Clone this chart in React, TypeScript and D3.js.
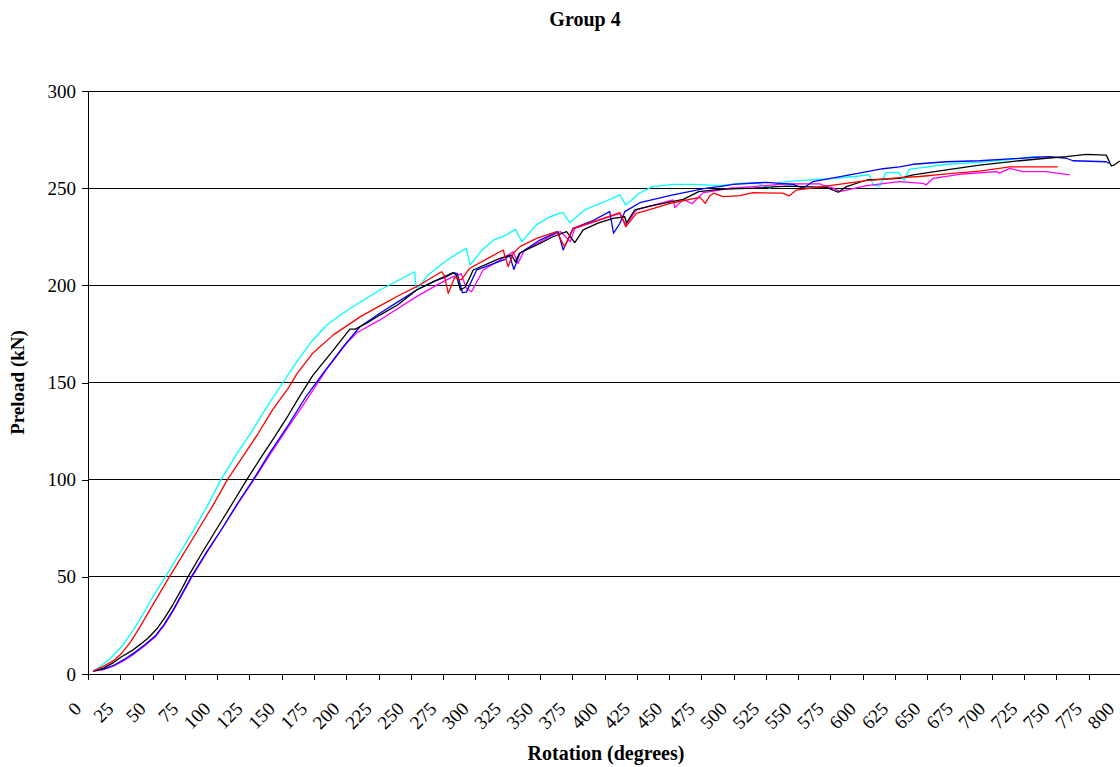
import React, { useRef, useEffect } from 'react';
import * as d3 from 'd3';

// Valeurs : [rotation (degrés), précharge (kN)]
const rotationTicks = d3.range(0, 801, 25);
const preloadTicks = [0, 50, 100, 150, 200, 250, 300];

const cyanSeries = [
  [4, 1.5], [10, 4], [18, 8.5], [26, 14], [34, 21.5], [42, 30], [50, 39.5], [60, 50], [70, 61], [80, 72],
  [92, 86], [103, 100], [115, 113], [127, 125], [139, 138], [151, 150], [162, 161], [173, 171],
  [185, 179.6], [195, 184.5], [205, 189], [216, 193.5], [226, 197.6], [240, 202.5], [253, 207],
  [254, 199], [256, 198.5], [262, 204.5], [275, 211.5], [285, 216], [293, 219], [296, 210.5],
  [305, 218], [314, 223.3], [324, 226], [331, 228.8], [336, 222.5], [347, 231], [357, 235],
  [365, 237], [368, 237.4], [373, 232.2], [385, 239], [400, 243], [412, 246.5], [416.5, 241.3],
  [427, 247.4], [437, 250.8], [453, 252], [470, 252], [489, 251.3], [505, 252.5], [518, 252.8],
  [528, 250], [536, 253], [551, 253.9], [577, 255], [594, 256], [605, 257], [608, 251.6],
  [613, 251], [618, 258], [628, 258], [632, 254], [636, 259.7], [650, 261], [665, 262.3],
  [690, 263.3], [716, 264.8], [732, 266.2], [737, 266],
];

const redSeries = [
  [4, 1.5], [12, 4], [20, 7], [26, 10.6], [33, 16.5], [40, 24], [51, 36.5], [63, 50], [75, 63],
  [86, 75], [97, 87], [108, 100], [120, 112], [132, 124], [143, 136], [155, 147], [162, 154.7],
  [174, 165], [190, 174.5], [211, 183.9], [226, 189.4], [240, 194.5], [254.5, 199.3], [265, 203.5],
  [273.8, 207], [276, 205], [279, 195.9], [284, 204.1], [289, 202.8], [295.7, 208.8], [310, 214],
  [321.5, 218.2], [325.4, 209.6], [329.3, 216.5], [334.5, 219.9], [347, 224], [363, 227.6],
  [369, 219.9], [375.7, 229.3], [395, 233.5], [412, 237.4], [416.5, 230.2], [424.8, 237],
  [440, 240], [453, 242.5], [474, 245.3], [478, 242.2], [481.5, 246], [484.4, 247.4],
  [491.8, 245.6], [504.8, 246.2], [515, 247.7], [538, 247.4], [543, 246], [548.6, 249],
  [577, 251.6], [603, 253.9], [628.6, 255.4], [644, 256], [667, 257.5], [690.6, 258.8],
  [713.8, 261], [751, 261],
];

const blackSeries = [
  [4, 1.5], [12, 3], [20, 6], [26, 8.9], [34, 12], [41, 15.5], [47, 18.8], [53, 23], [59, 28.5],
  [66, 36], [72, 43], [77.4, 50], [88, 62], [100, 75], [112, 88], [123, 100], [134, 111.5],
  [145, 122.5], [155, 133], [164, 143], [174, 153.5], [190, 166.7], [202.8, 177.5], [207, 177.5],
  [215.8, 180.5], [226, 184.7], [240, 190], [254.5, 197.6], [268, 202], [282.8, 206.5],
  [285, 205.5], [288.5, 197.6], [292, 199], [296, 204.5], [298.3, 207.9], [319, 213.9],
  [328, 215.6], [331, 212], [334, 216.5], [350, 221.6], [360, 225], [370.6, 227.6], [377, 222],
  [383.5, 228.5], [395, 232], [406.7, 234.5], [415.7, 235.3], [417, 232], [423.5, 238.8],
  [435, 240.8], [461, 244.2], [473, 248.2], [489, 249.4], [515, 250], [541, 251], [572, 250.4],
  [581, 247.9], [587.4, 250.8], [603, 254.2], [628.6, 255], [639, 256.8], [664.8, 259.4],
  [690.6, 261.9], [721.5, 264.1], [742, 265.4], [757.6, 266.2], [773, 267.4], [788.6, 267],
  [792.5, 261.4], [795, 262], [799, 264],
];

const blueSeries = [
  [4, 1.5], [12, 2.5], [20, 4.5], [28, 7.5], [36, 11], [44, 15], [52, 19.5], [59, 25.5], [66, 33],
  [73, 41.5], [80, 50], [92, 63], [104, 75], [116, 88], [128, 100], [141, 114], [155, 128],
  [168, 141.9], [182, 154.7], [197.7, 168.4], [210.6, 178.7], [226, 185.6], [240, 191.5],
  [254.5, 197.6], [268, 202], [277.7, 204.5], [283, 206.5], [286, 206], [290, 196.2], [293, 196.5],
  [301, 207.9], [323, 213.4], [326.5, 215.5], [329.8, 208.2], [334.5, 216.5], [350, 223.3],
  [364, 227.6], [368, 218.2], [375.7, 229.3], [390, 233], [401.5, 237], [404, 238], [407, 226.8],
  [411.9, 231.9], [415.7, 237.9], [427.4, 242.5], [453, 246.5], [479, 250], [489, 250.8],
  [499.6, 252], [525.4, 253], [546, 252], [553.8, 250], [561.5, 253.4], [590, 256.8],
  [615.6, 260], [628.6, 261], [639, 262.3], [664.8, 263.6], [690.6, 264.1], [734.5, 265.9],
  [744.8, 266.2], [757.6, 265.4], [762.8, 264.1], [788.6, 263.6], [791, 262.7],
];

const magentaSeries = [
  [4, 1.5], [12, 2.3], [20, 4.2], [28, 7], [36, 10.5], [44, 14.5], [52, 19], [59, 25], [66, 32.5],
  [73, 41], [80.5, 50], [92, 62.5], [104, 75], [116, 87.5], [128.5, 100], [141, 113], [155, 127],
  [169.3, 141], [185, 157], [200, 170], [208, 175.5], [226, 182.2], [254.5, 194.2], [272.5, 201],
  [282.8, 204.5], [286.7, 205.3], [289, 206], [293, 198.5], [297, 196.7], [306, 207.9], [319, 213],
  [329.3, 217.3], [333, 211.3], [338, 218.2], [362.8, 226.8], [366, 227.6], [373.5, 222.5],
  [377, 229.3], [411.9, 237], [416.5, 231], [424.8, 238.8], [453, 244], [454.5, 240], [461, 244.2],
  [468, 242], [472, 244.8], [476.5, 247.7], [489, 249], [497, 250], [515, 250.8], [541, 252.2],
  [567, 252.2], [569, 251.6], [577, 250], [582, 248.2], [587.4, 249], [603, 251.3], [628.6, 253.4],
  [646.7, 252.5], [649, 251.6], [654.4, 255], [677.7, 257.3], [703.5, 258.5], [706, 257.7],
  [713.8, 260.2], [724, 258.5], [742, 258.5], [760.3, 256.8],
];

const seriesList = [
  { data: cyanSeries, color: '#00FFFF' },
  { data: magentaSeries, color: '#FF00FF' },
  { data: blueSeries, color: '#0000FF' },
  { data: blackSeries, color: '#000000' },
  { data: redSeries, color: '#FF0000' },
];

function App() {
  const svgRef = useRef(null);

  useEffect(() => {
    const width = 1120;
    const height = 767;
    const font = '"Liberation Serif", "Times New Roman", serif';

    const x = d3.scaleLinear().domain([0, 800]).range([88, 1121]);
    const y = d3.scaleLinear().domain([0, 300]).range([674, 91]);

    const svg = d3.select(svgRef.current)
      .attr('width', width)
      .attr('height', height)
      .style('position', 'absolute')
      .style('left', 0)
      .style('top', 0)
      .style('background', '#fff');

    svg.selectAll('*').remove();

    // Lignes de quadrillage horizontales
    svg.append('g')
      .selectAll('line')
      .data(preloadTicks.filter(d => d > 0))
      .join('line')
      .attr('x1', x(0))
      .attr('x2', width)
      .attr('y1', d => y(d))
      .attr('y2', d => y(d))
      .attr('stroke', '#000')
      .attr('shape-rendering', 'crispEdges');

    // Axe Y
    const yAxis = svg.append('g')
      .attr('transform', `translate(${x(0)},0)`)
      .call(d3.axisLeft(y).tickValues(preloadTicks).tickSize(6).tickPadding(6));
    yAxis.select('.domain').attr('stroke', '#000').attr('shape-rendering', 'crispEdges');
    yAxis.selectAll('.tick line').attr('shape-rendering', 'crispEdges');
    yAxis.selectAll('text')
      .style('font-family', font)
      .style('font-size', '19px')
      .attr('fill', '#000');

    // Axe X
    const xAxis = svg.append('g')
      .attr('transform', `translate(0,${y(0)})`)
      .call(d3.axisBottom(x).tickValues(rotationTicks).tickSize(6).tickFormat(d3.format('d')));
    xAxis.select('.domain').remove();
    svg.append('line')
      .attr('x1', x(0)).attr('x2', width)
      .attr('y1', y(0)).attr('y2', y(0))
      .attr('stroke', '#000')
      .attr('shape-rendering', 'crispEdges');
    xAxis.selectAll('.tick line').attr('shape-rendering', 'crispEdges');
    xAxis.selectAll('text')
      .style('font-family', font)
      .style('font-size', '19px')
      .attr('fill', '#000')
      .attr('text-anchor', 'end')
      .attr('x', 0)
      .attr('y', 0)
      .attr('dy', 0)
      .attr('transform', 'translate(-6,36) rotate(-45)');

    // Courbes
    const line = d3.line()
      .x(d => x(d[0]))
      .y(d => y(d[1]));

    seriesList.forEach(s => {
      svg.append('path')
        .datum(s.data)
        .attr('d', line)
        .attr('fill', 'none')
        .attr('stroke', s.color)
        .attr('stroke-width', 1.3)
        .attr('stroke-linejoin', 'round');
    });

    // Titres
    svg.append('text')
      .attr('x', 585)
      .attr('y', 26)
      .attr('text-anchor', 'middle')
      .style('font-family', font)
      .style('font-weight', 'bold')
      .style('font-size', '20px')
      .text('Group 4');

    svg.append('text')
      .attr('x', 606)
      .attr('y', 760)
      .attr('text-anchor', 'middle')
      .style('font-family', font)
      .style('font-weight', 'bold')
      .style('font-size', '20px')
      .text('Rotation (degrees)');

    svg.append('text')
      .attr('transform', `translate(24,${(y(0) + y(300)) / 2}) rotate(-90)`)
      .attr('text-anchor', 'middle')
      .style('font-family', font)
      .style('font-weight', 'bold')
      .style('font-size', '19px')
      .text('Preload (kN)');
  }, []);

  return <svg ref={svgRef}></svg>;
}

export default App;
